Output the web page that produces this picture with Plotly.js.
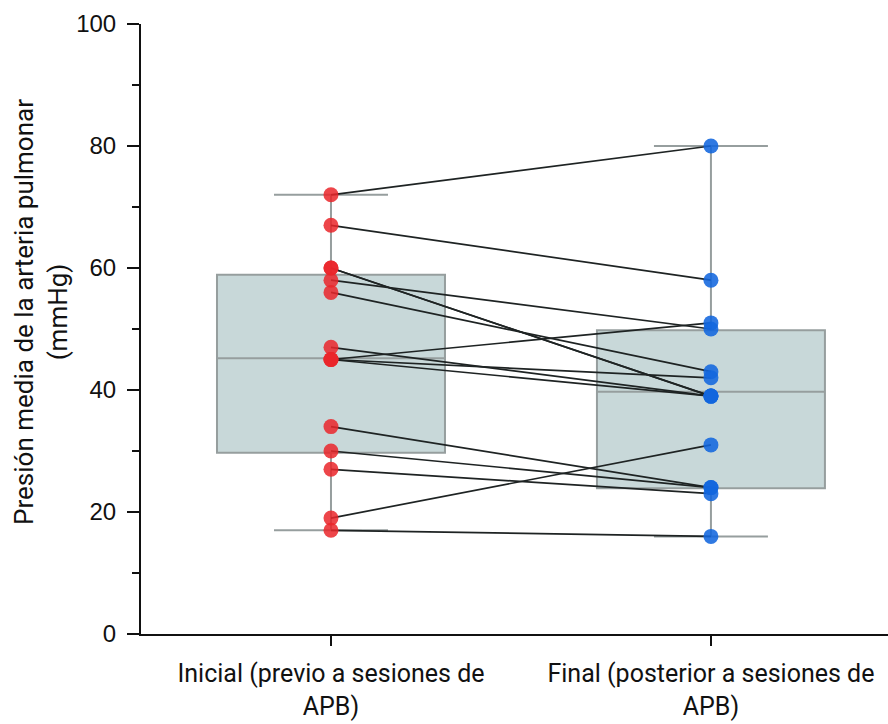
<!DOCTYPE html>
<html>
<head>
<meta charset="utf-8">
<script src="https://cdn.plot.ly/plotly-3.0.1.min.js"></script>
<style>html,body{margin:0;padding:0;background:#fff;}#chart{width:888px;height:724px;}</style>
</head>
<body>
<div id="chart"></div>
<script>
// Category labels
const categoryLabels = ["Inicial (previo a sesiones de<br>APB)", "Final (posterior a sesiones de<br>APB)"];
const yTitle = "Presión media de la arteria pulmonar<br>(mmHg)";
// Paired patient values (mmHg)
const inicial = [72, 67, 60, 60, 58, 56, 47, 45, 45, 45, 34, 30, 27, 19, 17];
const final   = [80, 58, 39, 39, 50, 43, 39, 51, 42, 39, 24, 24, 23, 31, 16];
// Box summary statistics
const boxQ1     = [29.7, 23.9];
const boxMedian = [45.2, 39.7];
const boxQ3     = [58.9, 49.8];
const boxLow    = [17, 16];
const boxHigh   = [72, 80];

const catFont = "Roboto, sans-serif";

// connecting lines
const lx = [], ly = [];
for (let i = 0; i < inicial.length; i++) {
  lx.push(0, 1, null);
  ly.push(inicial[i], final[i], null);
}

const boxStyle = {
  type: "box",
  fillcolor: "rgb(200,216,217)",
  line: {color: "rgb(150,158,158)", width: 2},
  width: 0.6,
  whiskerwidth: 0.5,
  boxpoints: false,
  hoverinfo: "skip",
  showlegend: false
};

const data = [
  Object.assign({}, boxStyle, {x: [0], q1: [boxQ1[0]], median: [boxMedian[0]], q3: [boxQ3[0]], lowerfence: [boxLow[0]], upperfence: [boxHigh[0]]}),
  Object.assign({}, boxStyle, {x: [1], q1: [boxQ1[1]], median: [boxMedian[1]], q3: [boxQ3[1]], lowerfence: [boxLow[1]], upperfence: [boxHigh[1]]}),
  {type: "scatter", mode: "lines", x: lx, y: ly, line: {color: "rgb(30,35,35)", width: 1.7}, connectgaps: false, showlegend: false, hoverinfo: "skip"},
  {type: "scatter", mode: "markers", x: inicial.map(() => 0), y: inicial, marker: {color: "rgb(234,38,42)", size: 15, opacity: 0.85}, showlegend: false},
  {type: "scatter", mode: "markers", x: final.map(() => 1), y: final, marker: {color: "rgb(18,102,222)", size: 15, opacity: 0.88}, showlegend: false}
];

const layout = {
  width: 888, height: 724,
  margin: {l: 141, r: 0, t: 24, b: 90},
  paper_bgcolor: "#fff", plot_bgcolor: "#fff",
  showlegend: false,
  xaxis: {
    range: [-0.5, 1.466],
    tickvals: [0, 1],
    ticktext: categoryLabels,
    showline: true, linecolor: "#111", linewidth: 2,
    ticks: "outside", ticklen: 10, tickwidth: 2, tickcolor: "#111",
    showgrid: false, zeroline: false,
    ticklabelstandoff: 6,
    tickfont: {family: catFont, size: 25, color: "#111"}
  },
  yaxis: {
    range: [0, 100],
    tickvals: [0, 20, 40, 60, 80, 100],
    showline: true, linecolor: "#111", linewidth: 2,
    ticks: "outside", ticklen: 12, tickwidth: 2, tickcolor: "#111",
    minor: {dtick: 10, ticks: "outside", ticklen: 7, tickwidth: 2, tickcolor: "#111"},
    showgrid: false, zeroline: false,
    ticklabelstandoff: 6,
    tickfont: {family: "Liberation Sans, Arial, sans-serif", size: 24, color: "#111"}
  },
  annotations: [{
    text: yTitle,
    xref: "paper", yref: "paper",
    x: 0, xshift: -100, xanchor: "center",
    y: 0.528, yanchor: "middle",
    textangle: -90,
    showarrow: false,
    font: {family: catFont, size: 26, color: "#111"}
  }]
};

Plotly.newPlot("chart", data, layout, {displayModeBar: false, staticPlot: true});
</script>
</body>
</html>
